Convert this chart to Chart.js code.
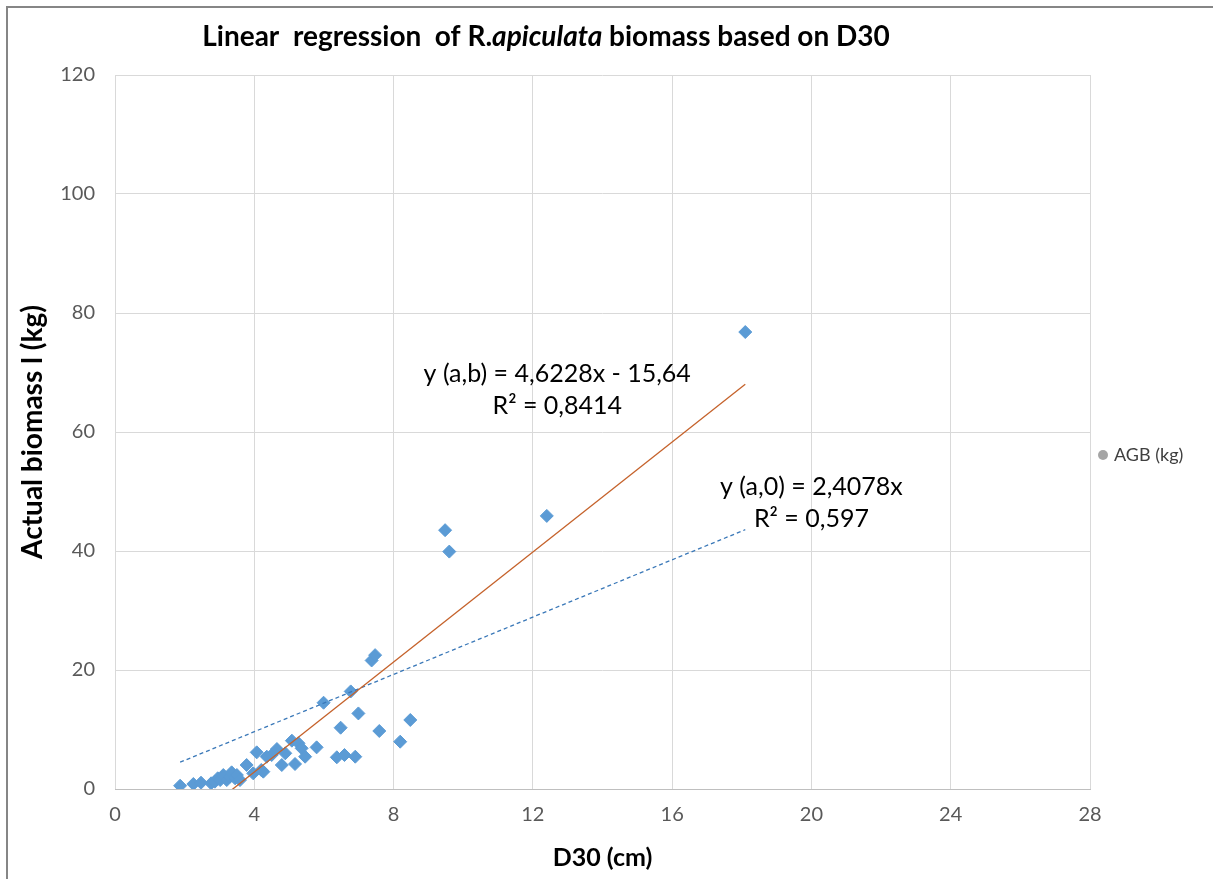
<!DOCTYPE html>
<html>
<head>
<meta charset="utf-8">
<title>Linear regression of R. apiculata biomass based on D30</title>
<script src="https://cdn.jsdelivr.net/npm/chart.js@4.4.1/dist/chart.umd.min.js"></script>
<style>
  html, body { margin: 0; padding: 0; background: #fff; }
  #wrap { width: 1213px; height: 879px; }
</style>
</head>
<body>
<div id="wrap"><canvas id="chart" width="1213" height="879"></canvas></div>
<script>
// measured points (D30 in cm, above-ground biomass in kg)
const d30 = [1.87, 2.25, 2.47, 2.76, 2.87, 2.95, 3.02, 3.11, 3.21, 3.30,
             3.35, 3.45, 3.50, 3.59, 3.78, 3.97, 4.07, 4.20, 4.26, 4.36,
             4.50, 4.65, 4.79, 4.89, 5.08, 5.17, 5.27, 5.36, 5.46, 5.79,
             5.99, 6.37, 6.48, 6.59, 6.77, 6.90, 6.99, 7.37, 7.47, 7.59,
             8.19, 8.48, 9.48, 9.60, 12.4, 18.1];
const agb = [0.55, 0.84, 1.06, 0.96, 1.23, 1.8, 1.5, 2.35, 1.5, 2.07,
             2.8, 1.79, 2.35, 1.5, 4.03, 2.63, 6.16, 3.2, 2.91, 5.43,
             5.71, 6.72, 4.03, 6.0, 8.12, 4.2, 7.68, 6.84, 5.43, 7.0,
             14.5, 5.33, 10.3, 5.71, 16.4, 5.43, 12.7, 21.6, 22.5, 9.75,
             7.95, 11.6, 43.5, 39.9, 45.9, 76.8];

const xTicks = [0, 4, 8, 12, 16, 20, 24, 28];
const yTicks = [0, 20, 40, 60, 80, 100, 120];

// trend lines as printed on the chart
const fitAB = { slope: 4.6228, intercept: -15.64 };
const fitA0 = { slope: 2.4078, intercept: 0 };
const fitLabels = [
  { lines: ['y (a,b) = 4,6228x - 15,64', 'R² = 0,8414'], x: 12.7, y: 69.7 },
  { lines: ['y (a,0) = 2,4078x', 'R² = 0,597'], x: 20.0, y: 50.8 }
];

const FONT = "Lato, 'Open Sans', 'DejaVu Sans', sans-serif";

const points = d30.map((x, i) => ({ x: x, y: agb[i] }));
const xMin = Math.min(...d30), xMax = Math.max(...d30);
const fitLine = f => [xMin, xMax].map(x => ({ x: x, y: f.slope * x + f.intercept }));

const decorPlugin = {
  id: 'decor',
  beforeDraw(chart) {
    const ctx = chart.ctx;
    ctx.save();
    ctx.strokeStyle = '#868686';
    ctx.lineWidth = 2;
    ctx.strokeRect(7, 7, 1400, 1000);
    ctx.restore();
  },
  afterDraw(chart) {
    const ctx = chart.ctx;
    const xs = chart.scales.x, ys = chart.scales.y;
    ctx.save();

    // title with italic species name
    const parts = [
      ['bold', 'Linear  regression  of R.'],
      ['italic bold', 'apiculata'],
      ['bold', ' biomass based on D30']
    ];
    const size = 28;
    let total = 0;
    parts.forEach(p => { ctx.font = `${p[0]} ${size}px ${FONT}`; total += ctx.measureText(p[1]).width; });
    let tx = 546 - total / 2;
    ctx.fillStyle = '#000';
    ctx.textBaseline = 'middle';
    ctx.textAlign = 'left';
    parts.forEach(p => {
      ctx.font = `${p[0]} ${size}px ${FONT}`;
      ctx.fillText(p[1], tx, 37);
      tx += ctx.measureText(p[1]).width;
    });

    // equation labels
    ctx.font = `25px ${FONT}`;
    ctx.textAlign = 'center';
    ctx.fillStyle = '#000';
    fitLabels.forEach(l => {
      const px = xs.getPixelForValue(l.x);
      const py = ys.getPixelForValue(l.y);
      l.lines.forEach((t, i) => ctx.fillText(t, px, py + i * 32));
    });

    // legend on the right
    const ly = 455;
    ctx.fillStyle = '#a5a5a5';
    ctx.beginPath();
    ctx.arc(chart.chartArea.right + 13, ly, 5, 0, Math.PI * 2);
    ctx.fill();
    ctx.fillStyle = '#404040';
    ctx.font = `18px ${FONT}`;
    ctx.textAlign = 'left';
    ctx.fillText('AGB (kg)', chart.chartArea.right + 24, ly);
    ctx.restore();
  }
};

new Chart(document.getElementById('chart'), {
  type: 'scatter',
  data: {
    datasets: [
      {
        type: 'line',
        label: 'Linear (a,b)',
        data: fitLine(fitAB),
        borderColor: '#c5622b',
        borderWidth: 1.3,
        pointRadius: 0,
        fill: false
      },
      {
        type: 'line',
        label: 'Linear (a,0)',
        data: fitLine(fitA0),
        borderColor: '#3a78b8',
        borderWidth: 1.3,
        borderDash: [4, 3],
        pointRadius: 0,
        fill: false
      },
      {
        label: 'AGB (kg)',
        data: points,
        backgroundColor: '#5b9bd5',
        borderColor: '#5b9bd5',
        borderWidth: 1,
        pointStyle: 'rectRot',
        pointRadius: 6.5,
        pointHoverRadius: 6.5
      }
    ]
  },
  options: {
    responsive: false,
    animation: false,
    devicePixelRatio: 1,
    layout: { padding: { top: 75, right: 123, left: 0, bottom: 0 } },
    plugins: {
      legend: { display: false },
      title: { display: false },
      tooltip: { enabled: false }
    },
    scales: {
      x: {
        type: 'linear',
        min: xTicks[0],
        max: xTicks[xTicks.length - 1],
        afterBuildTicks: s => { s.ticks = xTicks.map(v => ({ value: v })); },
        afterFit: s => { s.height = 90; },
        grid: { color: '#d9d9d9', drawTicks: false },
        border: { color: '#bfbfbf', width: 1 },
        ticks: { color: '#595959', font: { family: FONT, size: 20 }, padding: 14 },
        title: {
          display: true,
          text: 'D30 (cm)',
          color: '#000',
          font: { family: FONT, size: 25, weight: 'bold' },
          padding: { top: 0, bottom: 6 }
        }
      },
      y: {
        type: 'linear',
        min: yTicks[0],
        max: yTicks[yTicks.length - 1],
        afterBuildTicks: s => { s.ticks = yTicks.map(v => ({ value: v })); },
        afterFit: s => { s.width = 115; },
        grid: { color: '#d9d9d9', drawTicks: false },
        border: { display: false },
        ticks: { color: '#595959', font: { family: FONT, size: 20 }, padding: 20 },
        title: {
          display: true,
          text: 'Actual biomass l (kg)',
          color: '#000',
          font: { family: FONT, size: 28, weight: 'bold' },
          padding: { top: 16, bottom: 0 }
        }
      }
    }
  },
  plugins: [decorPlugin]
});
</script>
</body>
</html>
